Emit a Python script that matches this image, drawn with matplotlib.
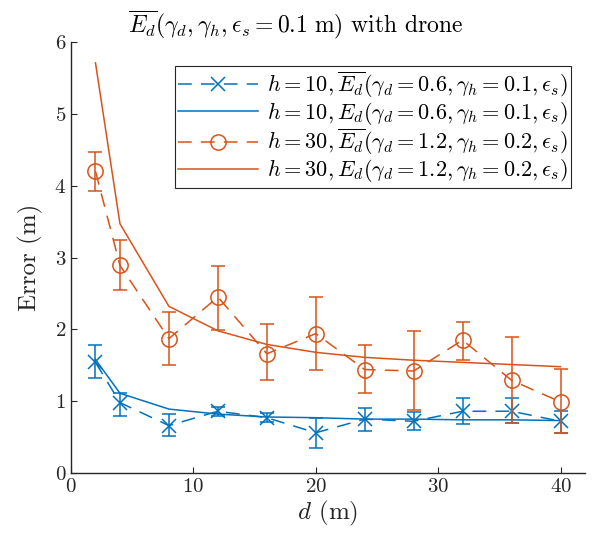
import numpy as np
import matplotlib
matplotlib.use("Agg")
import matplotlib.pyplot as plt

plt.rcParams["font.family"] = "cmr10"
plt.rcParams["mathtext.fontset"] = "cm"
plt.rcParams["axes.formatter.use_mathtext"] = True

d = [2, 4, 8, 12, 16, 20, 24, 28, 32, 36, 40]

# h = 10 : measured mean with error range, and model
h10_mean = [1.54, 0.98, 0.66, 0.86, 0.77, 0.56, 0.75, 0.72, 0.86, 0.86, 0.72]
h10_low = [1.32, 0.79, 0.52, 0.80, 0.71, 0.35, 0.59, 0.60, 0.68, 0.69, 0.55]
h10_high = [1.78, 1.12, 0.82, 0.92, 0.83, 0.76, 0.90, 0.85, 1.04, 1.04, 0.87]
h10_model = [1.58, 1.11, 0.89, 0.82, 0.78, 0.77, 0.75, 0.75, 0.74, 0.74, 0.73]

# h = 30
h30_mean = [4.20, 2.89, 1.87, 2.45, 1.66, 1.94, 1.44, 1.42, 1.85, 1.29, 0.99]
h30_low = [3.93, 2.55, 1.51, 1.99, 1.29, 1.43, 1.12, 0.88, 1.58, 0.70, 0.55]
h30_high = [4.47, 3.24, 2.24, 2.88, 2.07, 2.45, 1.78, 1.97, 2.10, 1.89, 1.45]
h30_model = [5.71, 3.47, 2.32, 1.98, 1.79, 1.68, 1.61, 1.57, 1.54, 1.51, 1.48]

blue = "#0072BD"
orange = "#D95319"

fig = plt.figure(figsize=(5.92, 5.46), dpi=100)
ax = fig.add_axes([71/592, 73/546, 514/592, 431/546])

dash = (9, 6)
for mean, low, high, model, c, m, ms, lbl in [
    (h10_mean, h10_low, h10_high, h10_model, blue, "x", 10,
     (r"$h=10, \overline{E_d}(\gamma_d=0.6, \gamma_h=0.1, \epsilon_s)$",
      r"$h=10, E_d(\gamma_d=0.6, \gamma_h=0.1, \epsilon_s)$")),
    (h30_mean, h30_low, h30_high, h30_model, orange, "o", 11,
     (r"$h=30, \overline{E_d}(\gamma_d=1.2, \gamma_h=0.2, \epsilon_s)$",
      r"$h=30, E_d(\gamma_d=1.2, \gamma_h=0.2, \epsilon_s)$")),
]:
    mean = np.array(mean)
    yerr = [mean - np.array(low), np.array(high) - mean]
    ax.errorbar(d, mean, yerr=yerr, fmt="none", ecolor=c, elinewidth=1.1,
                capsize=5, capthick=1.1)
    ax.plot(d, mean, color=c, lw=1.1, dashes=dash, marker=m, markersize=ms,
            markerfacecolor="none", markeredgewidth=1.1, label=lbl[0])
    ax.plot(d, model, color=c, lw=1.1, label=lbl[1])

ax.set_xlim(0, 42)
ax.set_ylim(0, 6)
ax.set_xticks([0, 10, 20, 30, 40])
ax.set_yticks(range(7))
ax.tick_params(direction="in", length=4, width=0.8, labelsize=15, colors="#262626")
for s in ["top", "right"]:
    ax.spines[s].set_visible(False)
for s in ["left", "bottom"]:
    ax.spines[s].set_color("#262626")
    ax.spines[s].set_linewidth(1.0)

ax.set_xlabel(r"$d$ (m)", fontsize=18, color="#262626", labelpad=2)
ax.set_ylabel("Error (m)", fontsize=18, color="#262626", labelpad=8)
fig.suptitle(r"$\overline{E_d}(\gamma_d, \gamma_h, \epsilon_s = 0.1\ \mathrm{m})$ with drone",
             fontsize=17, color="black", x=0.5, y=0.985, va="top")

leg = ax.legend(loc="upper right", bbox_to_anchor=(0.995, 0.97), fontsize=16,
                handlelength=3.6, fancybox=False, edgecolor="#262626",
                framealpha=1, borderpad=0.15, labelspacing=0.0, handletextpad=0.4)
leg.get_frame().set_linewidth(0.8)

fig.savefig("out.png", dpi=100)
